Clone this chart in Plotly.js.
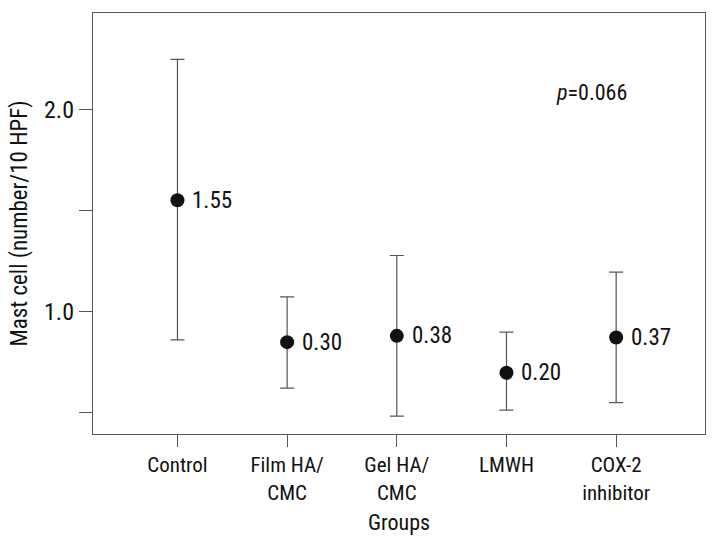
<!DOCTYPE html>
<html>
<head>
<meta charset="utf-8">
<script src="https://cdn.plot.ly/plotly-3.0.1.min.js"></script>
<style>html,body{margin:0;padding:0;background:#fff;}#chart{width:715px;height:546px;}</style>
</head>
<body>
<div id="chart"></div>
<script>
var categories = ['Control', 'Film HA/<br>CMC', 'Gel HA/<br>CMC', 'LMWH', 'COX-2<br>inhibitor'];
var meanValues = [1.552, 0.849, 0.880, 0.697, 0.872];
var upperValues = [2.249, 1.073, 1.278, 0.899, 1.196];
var lowerValues = [0.860, 0.621, 0.483, 0.512, 0.549];
var pointLabels = ['1.55', '0.30', '0.38', '0.20', '0.37'];
var yTickVals = [0.5, 1.0, 1.5, 2.0];
var yTickText = ['', '1.0', '', '2.0'];
var pText = '<i>p</i>=0.066';
var xTitle = 'Groups';
var yTitle = 'Mast cell (number/10 HPF)';

var FONT = '"Liberation Sans Narrow", "Arial Narrow", "Roboto Condensed", Roboto, sans-serif';
var xIdx = categories.map(function(_, i){ return i; });

var trace = {
  type: 'scatter',
  mode: 'markers',
  x: xIdx,
  y: meanValues,
  marker: {color: '#111', size: 14},
  error_y: {
    type: 'data',
    symmetric: false,
    array: upperValues.map(function(u, i){ return u - meanValues[i]; }),
    arrayminus: lowerValues.map(function(l, i){ return meanValues[i] - l; }),
    color: '#555',
    thickness: 1.2,
    width: 7
  },
  hoverinfo: 'skip'
};

var annotations = xIdx.map(function(i){
  return {
    x: i, y: meanValues[i], xref: 'x', yref: 'y',
    text: pointLabels[i], showarrow: false,
    xanchor: 'left', yanchor: 'middle', xshift: 13,
    font: {family: FONT, size: 23, color: '#111'}
  };
});
annotations.push({
  x: 0.815, y: 0.81, xref: 'paper', yref: 'paper',
  text: pText, showarrow: false, xanchor: 'center', yanchor: 'middle',
  font: {family: FONT, size: 22, color: '#111'}
});
annotations.push({
  x: 0.5, y: -0.211, xref: 'paper', yref: 'paper',
  text: xTitle, showarrow: false, xanchor: 'center', yanchor: 'middle',
  font: {family: FONT, size: 22, color: '#111'}
});

var layout = {
  width: 715, height: 546,
  margin: {l: 93, r: 10, t: 13, b: 112},
  paper_bgcolor: '#fff', plot_bgcolor: '#fff',
  showlegend: false,
  font: {family: FONT, size: 22, color: '#111'},
  xaxis: {
    range: [-0.77, 4.81],
    tickvals: xIdx, ticktext: categories,
    ticks: 'outside', ticklen: 12, tickcolor: '#555', tickwidth: 1.2,
    showline: true, linecolor: '#555', linewidth: 1.2, mirror: true,
    showgrid: false, zeroline: false,
    tickfont: {family: FONT, size: 21, color: '#111'}
  },
  yaxis: {
    range: [0.394, 2.479],
    tickvals: yTickVals, ticktext: yTickText,
    ticks: 'outside', ticklen: 13, tickcolor: '#555', tickwidth: 1.2,
    showline: true, linecolor: '#555', linewidth: 1.2, mirror: true,
    showgrid: false, zeroline: false,
    tickfont: {family: FONT, size: 24, color: '#111'},
    title: {text: yTitle, font: {family: FONT, size: 23, color: '#111'}, standoff: 10}
  },
  annotations: annotations
};

Plotly.newPlot('chart', [trace], layout, {displayModeBar: false, staticPlot: true});
</script>
</body>
</html>
